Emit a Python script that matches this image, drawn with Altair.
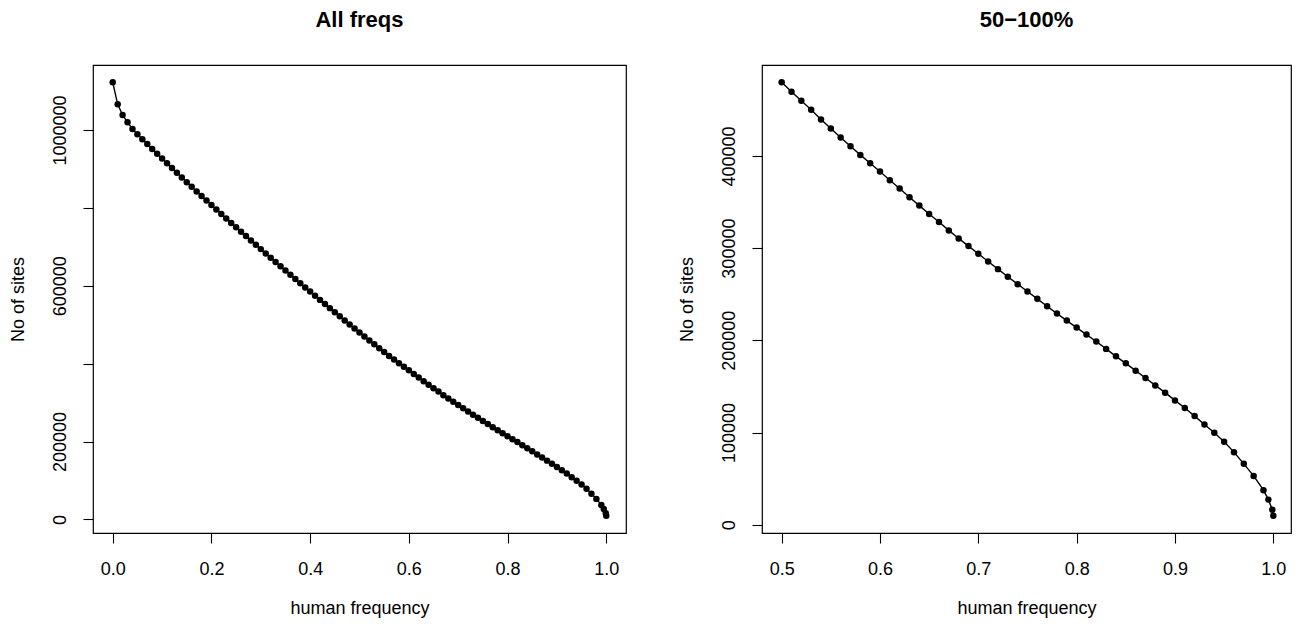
import altair as alt
import pandas as pd

# human frequency bins
freq = [0.00, 0.01, 0.02, 0.03, 0.04, 0.05, 0.06, 0.07, 0.08, 0.09,
        0.10, 0.11, 0.12, 0.13, 0.14, 0.15, 0.16, 0.17, 0.18, 0.19,
        0.20, 0.21, 0.22, 0.23, 0.24, 0.25, 0.26, 0.27, 0.28, 0.29,
        0.30, 0.31, 0.32, 0.33, 0.34, 0.35, 0.36, 0.37, 0.38, 0.39,
        0.40, 0.41, 0.42, 0.43, 0.44, 0.45, 0.46, 0.47, 0.48, 0.49,
        0.50, 0.51, 0.52, 0.53, 0.54, 0.55, 0.56, 0.57, 0.58, 0.59,
        0.60, 0.61, 0.62, 0.63, 0.64, 0.65, 0.66, 0.67, 0.68, 0.69,
        0.70, 0.71, 0.72, 0.73, 0.74, 0.75, 0.76, 0.77, 0.78, 0.79,
        0.80, 0.81, 0.82, 0.83, 0.84, 0.85, 0.86, 0.87, 0.88, 0.89,
        0.90, 0.91, 0.92, 0.93, 0.94, 0.95, 0.96, 0.97, 0.98, 0.99,
        0.995, 0.999, 1.00]

# number of sites at or above each frequency
sites = [1122300, 1065800, 1038400, 1019600, 1002400, 989000, 976400, 963900, 951400, 939000,
         926700, 914400, 902200, 890100, 878000, 866000, 854100, 842300, 830500, 818800,
         807200, 795600, 784100, 772700, 761300, 750000, 738700, 727500, 716300, 705200,
         694100, 683000, 672000, 661000, 650000, 639100, 628200, 617400, 606600, 595800,
         585100, 574400, 563800, 553200, 542600, 532100, 521600, 511100, 500700, 490300,
         479800, 469600, 459800, 450000, 439600, 429800, 420000, 410500, 401100, 392100,
         383000, 373600, 364600, 355100, 346100, 337000, 328300, 319200, 310500, 302200,
         293900, 285500, 277200, 268900, 260900, 252900, 245000, 237000, 229000, 221400,
         213800, 206200, 198700, 190700, 182600, 175000, 167100, 159100, 151100, 143200,
         134800, 126500, 117800, 108700, 99700, 89900, 78700, 66000, 52900, 37400,
         27200, 16300, 9800]

left_xticks = [0.0, 0.2, 0.4, 0.6, 0.8, 1.0]
left_yticks = [0, 200000, 400000, 600000, 800000, 1000000]
right_xticks = [0.5, 0.6, 0.7, 0.8, 0.9, 1.0]
right_yticks = [0, 100000, 200000, 300000, 400000]

df = pd.DataFrame({"freq": freq, "sites": sites})
df_hi = df[df["freq"] >= 0.5]

FONT = "Liberation Sans"


def panel(data, title, xdom, xticks, ydom, yticks, label_expr, w, h):
    x = alt.X("freq:Q",
              scale=alt.Scale(domain=xdom, nice=False, zero=False),
              axis=alt.Axis(values=xticks, format=".1f", title="human frequency",
                            labelFlush=False, labelPadding=17, titlePadding=21))
    y = alt.Y("sites:Q",
              scale=alt.Scale(domain=ydom, nice=False, zero=False),
              axis=alt.Axis(values=yticks, format="d", title="No of sites",
                            labelAngle=270, labelAlign="center", labelBaseline="bottom",
                            labelOverlap=False, labelFlush=False, labelPadding=13.5,
                            labelExpr=label_expr, titlePadding=24))
    base = alt.Chart(data).encode(x=x, y=y)
    line = base.mark_line(color="black", strokeWidth=1.4)
    pts = base.mark_circle(color="black", size=42, opacity=1)
    return alt.layer(line, pts).properties(
        width=w, height=h,
        title=alt.TitleParams(title, anchor="middle"))


left = panel(df, "All freqs", [-0.04, 1.04], left_xticks, [-34700, 1166800], left_yticks,
             "datum.value == 400000 || datum.value == 800000 ? '' : datum.label", 533, 468)
right = panel(df_hi, "50\u2212100%", [0.48, 1.018], right_xticks, [-9000, 498600], right_yticks,
              "datum.label", 529, 468)

chart = alt.hconcat(left, right, spacing=50).configure_view(
    stroke="black", strokeWidth=1.2
).configure_axis(
    domain=False, grid=False, tickColor="black", tickSize=10, tickWidth=1.1,
    labelColor="black", titleColor="black", labelFont=FONT, titleFont=FONT,
    labelFontSize=18, titleFontSize=18, titleFontWeight="normal"
).configure_title(
    font=FONT, fontSize=22, fontWeight="bold", color="black", offset=33
).properties(padding={"left": 0, "top": 0, "right": 0, "bottom": 0})

chart.save("out.html", embed_options={"renderer": "svg", "actions": False})
